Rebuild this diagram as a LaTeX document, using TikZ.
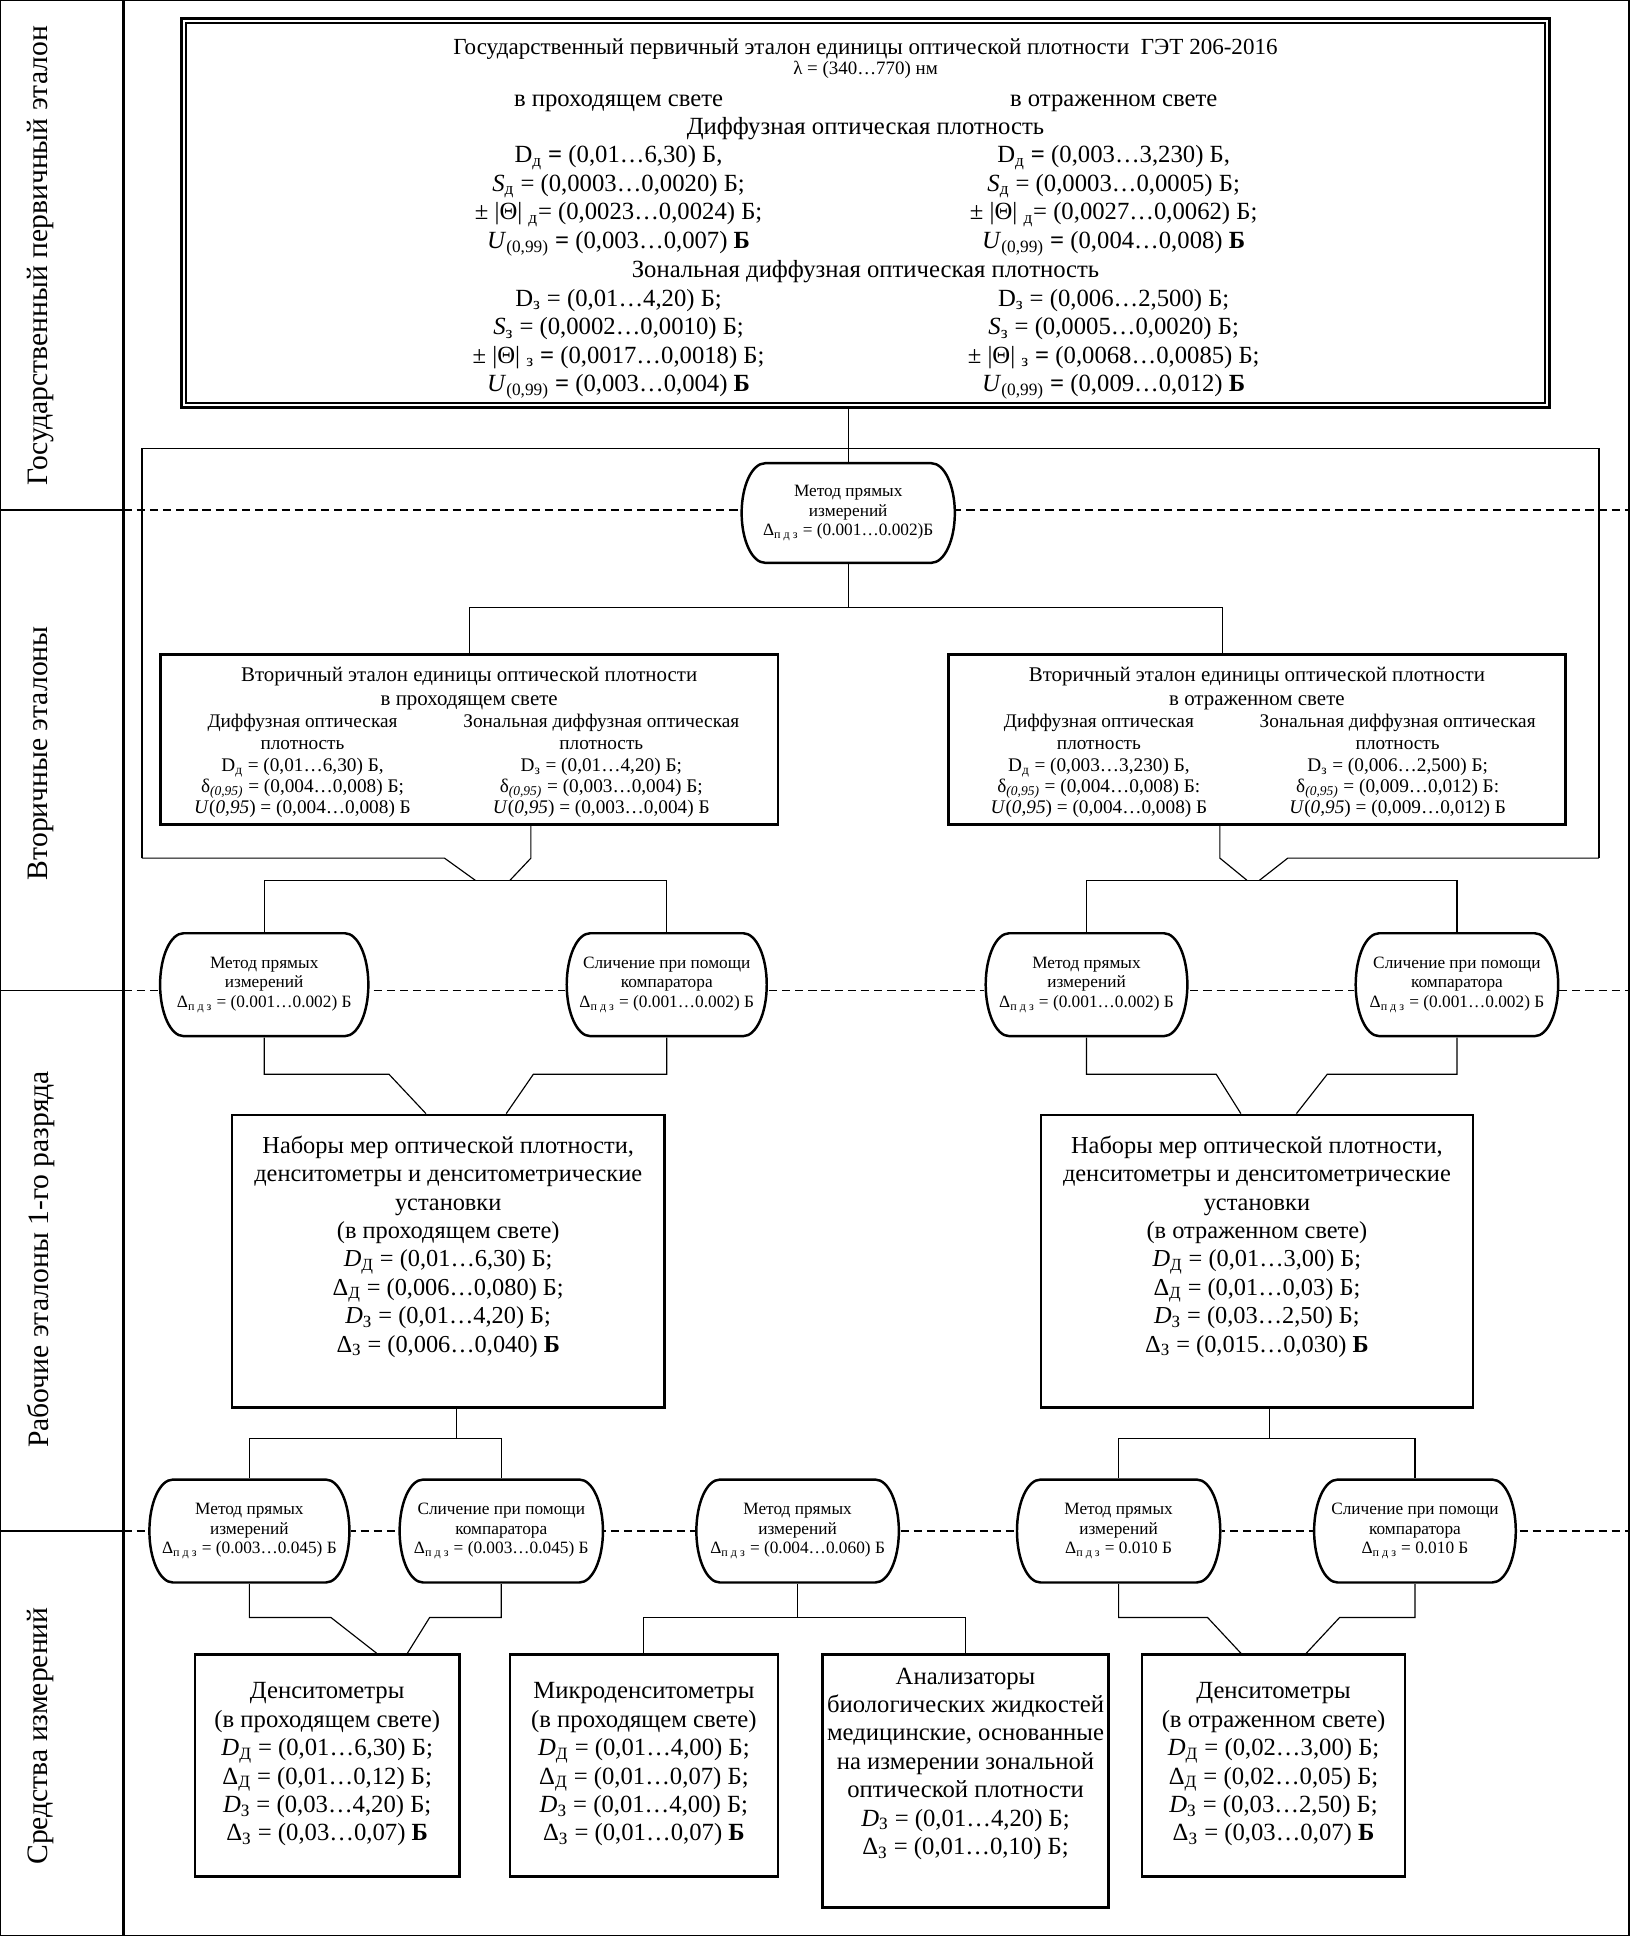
\documentclass[tikz,border=0pt]{standalone}
\usepackage{fontspec}
\setmainfont{Liberation Serif}
\newcommand\fMain{\fontsize{15}{17.25}\selectfont}
\newcommand\fRank{\fontsize{14.8}{17.25}\selectfont}
\newcommand\fTitle{\fontsize{14}{16}\selectfont}
\newcommand\fLam{\fontsize{11.5}{13}\selectfont}
\newcommand\fSecT{\fontsize{12.7}{14.25}\selectfont}
\newcommand\fSec{\fontsize{11.7}{13.5}\selectfont}
\newcommand\fSecF{\fontsize{11.7}{12.75}\selectfont}
\newcommand\fPill{\fontsize{10.5}{12}\selectfont}
\newcommand\fLab{\fontsize{18}{20}\selectfont}
\newcommand\textlines[6][]{%
  \foreach \linetxt [count=\i from 0] in {#6} {%
    \node[txt,#1] (#2-\i) at ({#3},{#4+\i*#5}) {\linetxt};}}
\begin{document}
\begin{tikzpicture}[x=0.75pt,y=-0.75pt,
  txt/.style={inner sep=0pt, anchor=base},
  frame/.style={draw, line width=1.6pt, fill=white, inner sep=0pt},
  conn/.style={line width=0.7pt},
  dline/.style={line width=0.7pt, dash pattern=on 5pt off 3pt},
  pill/.style 2 args={fill=white, inner sep=0pt, align=center, font=\fPill,
    minimum width=#1, minimum height=#2,
    path picture={\draw[line width=1.5pt]
      ([shift={(15pt,-0.75pt)}]path picture bounding box.north west) --
      ([shift={(-15pt,-0.75pt)}]path picture bounding box.north east)
      arc[start angle=90,end angle=-90,x radius=14.25pt,y radius={#2/2-0.75pt}] --
      ([shift={(15pt,0.75pt)}]path picture bounding box.south west)
      arc[start angle=270,end angle=90,x radius=14.25pt,y radius={#2/2-0.75pt}] -- cycle;}},
  lab/.style={rotate=90, font=\fLab, inner sep=0pt}]
\useasboundingbox (0,0) rectangle (1320,1568);
% frame of the sheet
\draw[line width=0.8pt] (0.6,0.6) rectangle (1319.4,1567.4);
\coordinate (vt) at (100,0); \coordinate (vb) at (100,1568);
\draw[line width=2pt] (vt) -- (vb);
\foreach \yy/\nm in {413/a,802/b,1240/c}{
  \coordinate (s\nm0) at (0,\yy); \coordinate (s\nm1) at (100,\yy); \coordinate (s\nm2) at (1320,\yy);
  \draw[conn] (s\nm0) -- (s\nm1);
  \draw[dline] (s\nm1) -- (s\nm2);}
% level labels
\node[lab] (lab1) at (33,207) {Государственный первичный эталон};
\node[lab] (lab2) at (33,610) {Вторичные эталоны};
\node[lab] (lab3) at (33,1020) {Рабочие эталоны 1-го разряда};
\node[lab] (lab4) at (33,1406) {Средства измерений};
% frames
\node[frame, line width=1.8pt, minimum width=831pt, minimum height=236.25pt] (top) at (701,172.5) {};
\draw[line width=1.2pt] ([shift={(3.4pt,-3.4pt)}]top.north west) rectangle ([shift={(-3.4pt,3.4pt)}]top.south east);
\node[frame, minimum width=375pt, minimum height=103.5pt] (secL) at (380,599) {};
\node[frame, minimum width=375pt, minimum height=103.5pt] (secR) at (1018,599) {};
\node[frame, minimum width=262.5pt, minimum height=177.75pt] (rk1L) at (363,1021.5) {};
\node[frame, minimum width=262.5pt, minimum height=177.75pt] (rk1R) at (1018,1021.5) {};
\node[frame, minimum width=160.5pt, minimum height=135pt] (bL) at (265,1430) {};
\node[frame, minimum width=162.75pt, minimum height=135pt] (bM) at (521.5,1430) {};
\node[frame, minimum width=174pt, minimum height=153.75pt] (bA) at (782,1442.5) {};
\node[frame, minimum width=159.75pt, minimum height=135pt] (bR) at (1031.5,1430) {};
% pills
\node[pill={131pt}{62pt}] (topM) at (687,415.5) {Метод прямых\\измерений\\Δ\textsubscript{п д з} = (0.001…0.002)Б};
\node[pill={128pt}{64pt}] (L1) at (214,797.5) {Метод прямых\\измерений\\Δ\textsubscript{п д з} = (0.001…0.002) Б};
\node[pill={123pt}{64pt}] (L2) at (540,797.5) {Сличение при помощи\\компаратора\\Δ\textsubscript{п д з} = (0.001…0.002) Б};
\node[pill={124pt}{64pt}] (R1) at (880,797.5) {Метод прямых\\измерений\\Δ\textsubscript{п д з} = (0.001…0.002) Б};
\node[pill={124.5pt}{64pt}] (R2) at (1180,797.5) {Сличение при помощи\\компаратора\\Δ\textsubscript{п д з} = (0.001…0.002) Б};
\node[pill={123pt}{64pt}] (A) at (202,1240) {Метод прямых\\измерений\\Δ\textsubscript{п д з} = (0.003…0.045) Б};
\node[pill={125pt}{64pt}] (B) at (406,1240) {Сличение при помощи\\компаратора\\Δ\textsubscript{п д з} = (0.003…0.045) Б};
\node[pill={124.5pt}{64pt}] (C) at (646,1240) {Метод прямых\\измерений\\Δ\textsubscript{п д з} = (0.004…0.060) Б};
\node[pill={125pt}{64pt}] (D) at (906,1240) {Метод прямых\\измерений\\Δ\textsubscript{п д з} = 0.010 Б};
\node[pill={124pt}{64pt}] (E) at (1146,1240) {Сличение при помощи\\компаратора\\Δ\textsubscript{п д з} = 0.010 Б};
% connectors
\coordinate (jTL) at (115,363); \coordinate (jTR) at (1295,363);
\coordinate (jLL) at (115,695); \coordinate (jRR) at (1295,695);
\draw[conn] (top.south -| topM.north) -- (topM.north);
\draw[conn] (jLL) -- (jTL) -- (jTR) -- (jRR);
\coordinate (mJ) at (687,492); \coordinate (cL) at (380,492); \coordinate (cR) at (990,492);
\draw[conn] (topM.south) -- (mJ);
\draw[conn] (secL.north -| cL) -- (cL) -- (cR) -- (secR.north -| cR);
\coordinate (kL1) at (360,695); \coordinate (kL2) at (385,713); \coordinate (sL) at (430,695); \coordinate (kL3) at (413,713);
\draw[conn] (jLL) -- (kL1) -- (kL2);
\draw[conn] (secL.south -| sL) -- (sL) -- (kL3);
\draw[conn] (L1.north) -- (L1.north |- kL2) -- (L2.north |- kL2) -- (L2.north);
\coordinate (sR) at (988,695); \coordinate (kR1) at (1010,713); \coordinate (kR2) at (1043,695); \coordinate (kR3) at (1020,713);
\draw[conn] (secR.south -| sR) -- (sR) -- (kR1);
\draw[conn] (jRR) -- (kR2) -- (kR3);
\draw[conn] (R1.north) -- (R1.north |- kR1) -- (R2.north |- kR1) -- (R2.north);
\coordinate (p1) at (315,870); \coordinate (p2) at (345,903); \coordinate (p3) at (432,870); \coordinate (p4) at (410,903);
\draw[conn] (L1.south) |- (p1) -- (p2 |- rk1L.north);
\draw[conn] (L2.south) |- (p3) -- (p4 |- rk1L.north);
\coordinate (p5) at (985,870); \coordinate (p6) at (1005,903); \coordinate (p7) at (1075,870); \coordinate (p8) at (1050,903);
\draw[conn] (R1.south) |- (p5) -- (p6 |- rk1R.north);
\draw[conn] (R2.south) |- (p7) -- (p8 |- rk1R.north);
\coordinate (q1) at (370,1165); \coordinate (q2) at (1028,1165);
\draw[conn] (rk1L.south -| q1) -- (q1);
\draw[conn] (A.north) -- (A.north |- q1) -- (B.north |- q1) -- (B.north);
\draw[conn] (rk1R.south -| q2) -- (q2);
\draw[conn] (D.north) -- (D.north |- q2) -- (E.north |- q2) -- (E.north);
\coordinate (r1) at (268,1310); \coordinate (r2) at (305,1340); \coordinate (r3) at (348,1310); \coordinate (r4) at (330,1340);
\draw[conn] (A.south) |- (r1) -- (r2 |- bL.north);
\draw[conn] (B.south) |- (r3) -- (r4 |- bL.north);
\coordinate (rr) at (646,1310);
\draw[conn] (C.south) -- (rr);
\draw[conn] (bM.north) -- (bM.north |- rr) -- (bA.north |- rr) -- (bA.north);
\coordinate (r5) at (978,1310); \coordinate (r6) at (1005,1340); \coordinate (r7) at (1085,1310); \coordinate (r8) at (1058,1340);
\draw[conn] (D.south) |- (r5) -- (r6 |- bR.north);
\draw[conn] (E.south) |- (r7) -- (r8 |- bR.north);
% top box text
\node[txt, font=\fTitle] (tT) at (701,44) {Государственный первичный эталон единицы оптической плотности\ \ ГЭТ 206-2016};
\node[txt, font=\fLam] (tLam) at (701,60) {λ = (340…770) нм};
\node[txt, font=\fMain] (tH1) at (501,86) {в проходящем свете};
\node[txt, font=\fMain] (tH2) at (902,86) {в отраженном свете};
\node[txt, font=\fMain] (tH3) at (701,109) {Диффузная оптическая плотность};
\node[txt, font=\fMain] (tH4) at (701,225) {Зональная диффузная оптическая плотность};
\textlines[font=\fMain]{tA}{501}{132}{23}{{D\textsubscript{д} \textbf{=} (0,01…6,30) Б,},{\textit{S}\textsubscript{д} = (0,0003…0,0020) Б;},{± |Θ| \textsubscript{д}= (0,0023…0,0024) Б;},{\textit{U}\textsubscript{(0,99)} \textbf{=} (0,003…0,007) \textbf{Б}}}
\textlines[font=\fMain]{tB}{902}{132}{23}{{D\textsubscript{д} \textbf{=} (0,003…3,230) Б,},{\textit{S}\textsubscript{д} = (0,0003…0,0005) Б;},{± |Θ| \textsubscript{д}= (0,0027…0,0062) Б;},{\textit{U}\textsubscript{(0,99)} \textbf{=} (0,004…0,008) \textbf{Б}}}
\textlines[font=\fMain]{tC}{501}{248}{23}{{D\textsubscript{з} = (0,01…4,20) Б;},{\textit{S}\textsubscript{з} = (0,0002…0,0010) Б;},{± |Θ| \textsubscript{з} \textbf{=} (0,0017…0,0018) Б;},{\textit{U}\textsubscript{(0,99)} \textbf{=} (0,003…0,004) \textbf{Б}}}
\textlines[font=\fMain]{tD}{902}{248}{23}{{D\textsubscript{з} = (0,006…2,500) Б;},{\textit{S}\textsubscript{з} = (0,0005…0,0020) Б;},{± |Θ| \textsubscript{з} \textbf{=} (0,0068…0,0085) Б;},{\textit{U}\textsubscript{(0,99)} \textbf{=} (0,009…0,012) \textbf{Б}}}
% secondary standards text
\textlines[font=\fSecT]{sLt}{380}{552}{19}{{Вторичный эталон единицы оптической плотности},{в проходящем свете}}
\textlines[font=\fSec]{sLa}{245}{589}{18}{{Диффузная оптическая},{плотность}}
\textlines[font=\fSec]{sLb}{487}{589}{18}{{Зональная диффузная оптическая},{плотность}}
\textlines[font=\fSecF]{sLc}{245}{625}{17}{{D\textsubscript{д} = (0,01…6,30) Б,},{δ\textsubscript{\textit{(0,95)}} = (0,004…0,008) Б;},{\textit{U}(\textit{0,95}) = (0,004…0,008) Б}}
\textlines[font=\fSecF]{sLd}{487}{625}{17}{{D\textsubscript{з} = (0,01…4,20) Б;},{δ\textsubscript{\textit{(0,95)}} = (0,003…0,004) Б;},{\textit{U}(\textit{0,95}) = (0,003…0,004) Б}}
\textlines[font=\fSecT]{sRt}{1018}{552}{19}{{Вторичный эталон единицы оптической плотности},{в отраженном свете}}
\textlines[font=\fSec]{sRa}{890}{589}{18}{{Диффузная оптическая},{плотность}}
\textlines[font=\fSec]{sRb}{1132}{589}{18}{{Зональная диффузная оптическая},{плотность}}
\textlines[font=\fSecF]{sRc}{890}{625}{17}{{D\textsubscript{д} = (0,003…3,230) Б,},{δ\textsubscript{\textit{(0,95)}} = (0,004…0,008) Б:},{\textit{U}(\textit{0,95}) = (0,004…0,008) Б}}
\textlines[font=\fSecF]{sRd}{1132}{625}{17}{{D\textsubscript{з} = (0,006…2,500) Б;},{δ\textsubscript{\textit{(0,95)}} = (0,009…0,012) Б:},{\textit{U}(\textit{0,95}) = (0,009…0,012) Б}}
% first rank working standards text
\textlines[font=\fRank]{kL}{363}{934}{23}{{Наборы мер оптической плотности,},{денситометры и денситометрические},{установки},{(в проходящем свете)},{\textit{D}\textsubscript{Д} = (0,01…6,30) Б;},{Δ\textsubscript{Д} = (0,006…0,080) Б;},{\textit{D}\textsubscript{З} = (0,01…4,20) Б;},{Δ\textsubscript{З} = (0,006…0,040) \textbf{Б}}}
\textlines[font=\fRank]{kR}{1018}{934}{23}{{Наборы мер оптической плотности,},{денситометры и денситометрические},{установки},{(в отраженном свете)},{\textit{D}\textsubscript{Д} = (0,01…3,00) Б;},{Δ\textsubscript{Д} = (0,01…0,03) Б;},{\textit{D}\textsubscript{З} = (0,03…2,50) Б;},{Δ\textsubscript{З} = (0,015…0,030) \textbf{Б}}}
% measuring instruments text
\textlines[font=\fMain]{mL}{265}{1376}{23}{{Денситометры},{(в проходящем свете)},{\textit{D}\textsubscript{Д} = (0,01…6,30) Б;},{Δ\textsubscript{Д} = (0,01…0,12) Б;},{\textit{D}\textsubscript{З} = (0,03…4,20) Б;},{Δ\textsubscript{З} = (0,03…0,07) \textbf{Б}}}
\textlines[font=\fMain]{mM}{521.5}{1376}{23}{{Микроденситометры},{(в проходящем свете)},{\textit{D}\textsubscript{Д} = (0,01…4,00) Б;},{Δ\textsubscript{Д} = (0,01…0,07) Б;},{\textit{D}\textsubscript{З} = (0,01…4,00) Б;},{Δ\textsubscript{З} = (0,01…0,07) \textbf{Б}}}
\textlines[font=\fMain]{mA}{782}{1364}{23}{{Анализаторы},{биологических жидкостей},{медицинские, основанные},{на измерении зональной},{оптической плотности},{\textit{D}\textsubscript{З} = (0,01…4,20) Б;},{Δ\textsubscript{З} = (0,01…0,10) Б;}}
\textlines[font=\fMain]{mR}{1031.5}{1376}{23}{{Денситометры},{(в отраженном свете)},{\textit{D}\textsubscript{Д} = (0,02…3,00) Б;},{Δ\textsubscript{Д} = (0,02…0,05) Б;},{\textit{D}\textsubscript{З} = (0,03…2,50) Б;},{Δ\textsubscript{З} = (0,03…0,07) \textbf{Б}}}
\end{tikzpicture}
\end{document}
